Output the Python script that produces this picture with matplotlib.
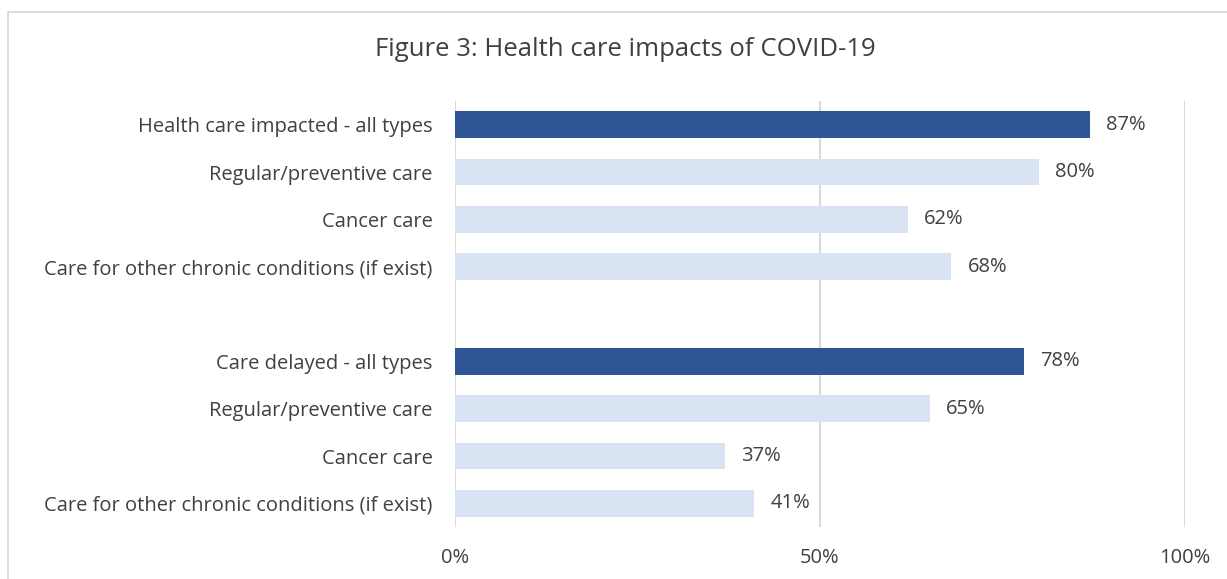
import matplotlib.pyplot as plt
from matplotlib.patches import Rectangle

plt.rcParams['font.family'] = ['Open Sans', 'DejaVu Sans']

categories = [
    'Health care impacted - all types',
    'Regular/preventive care',
    'Cancer care',
    'Care for other chronic conditions (if exist)',
    '',
    'Care delayed - all types',
    'Regular/preventive care',
    'Cancer care',
    'Care for other chronic conditions (if exist)',
]
values = [0.87, 0.80, 0.62, 0.68, None, 0.78, 0.65, 0.37, 0.41]
is_total = [True, False, False, False, False, True, False, False, False]

dark = '#2F5597'
light = '#DAE3F3'
text_color = '#404040'
grid_color = '#D9D9D9'

fig = plt.figure(figsize=(12.27, 5.79), dpi=100)
ax = fig.add_axes([455 / 1227, 1 - 527 / 579, 730 / 1227, 426 / 579])

for i, (v, tot) in enumerate(zip(values, is_total)):
    if v is None:
        continue
    ax.barh(i, v, height=0.56, color=dark if tot else light, zorder=3)
    ax.text(v + 0.022, i, f'{round(v * 100)}%', va='center', ha='left',
            fontsize=14.5, color=text_color)

ax.set_ylim(8.5, -0.5)
ax.set_xlim(0, 1)
ax.set_yticks(range(len(categories)))
ax.set_yticklabels(categories, fontsize=14.5, color=text_color)
ax.set_xticks([0, 0.5, 1])
ax.set_xticklabels(['0%', '50%', '100%'], fontsize=14.5, color=text_color)
ax.tick_params(length=0)
ax.tick_params(axis='y', pad=16)
ax.tick_params(axis='x', pad=15)
ax.grid(axis='x', color=grid_color, linewidth=1.5, zorder=0)
for s in ax.spines.values():
    s.set_visible(False)

fig.text(625 / 1227, 1 - 50 / 579, 'Figure 3: Health care impacts of COVID-19',
         ha='center', va='center', fontsize=18.5, color=text_color)

fig.patches.append(Rectangle((8 / 1227, -0.1), 1.2, 1 - 12 / 579 + 0.1,
                             transform=fig.transFigure, fill=False,
                             edgecolor=grid_color, linewidth=1.3))

fig.savefig('out.png', dpi=100)
